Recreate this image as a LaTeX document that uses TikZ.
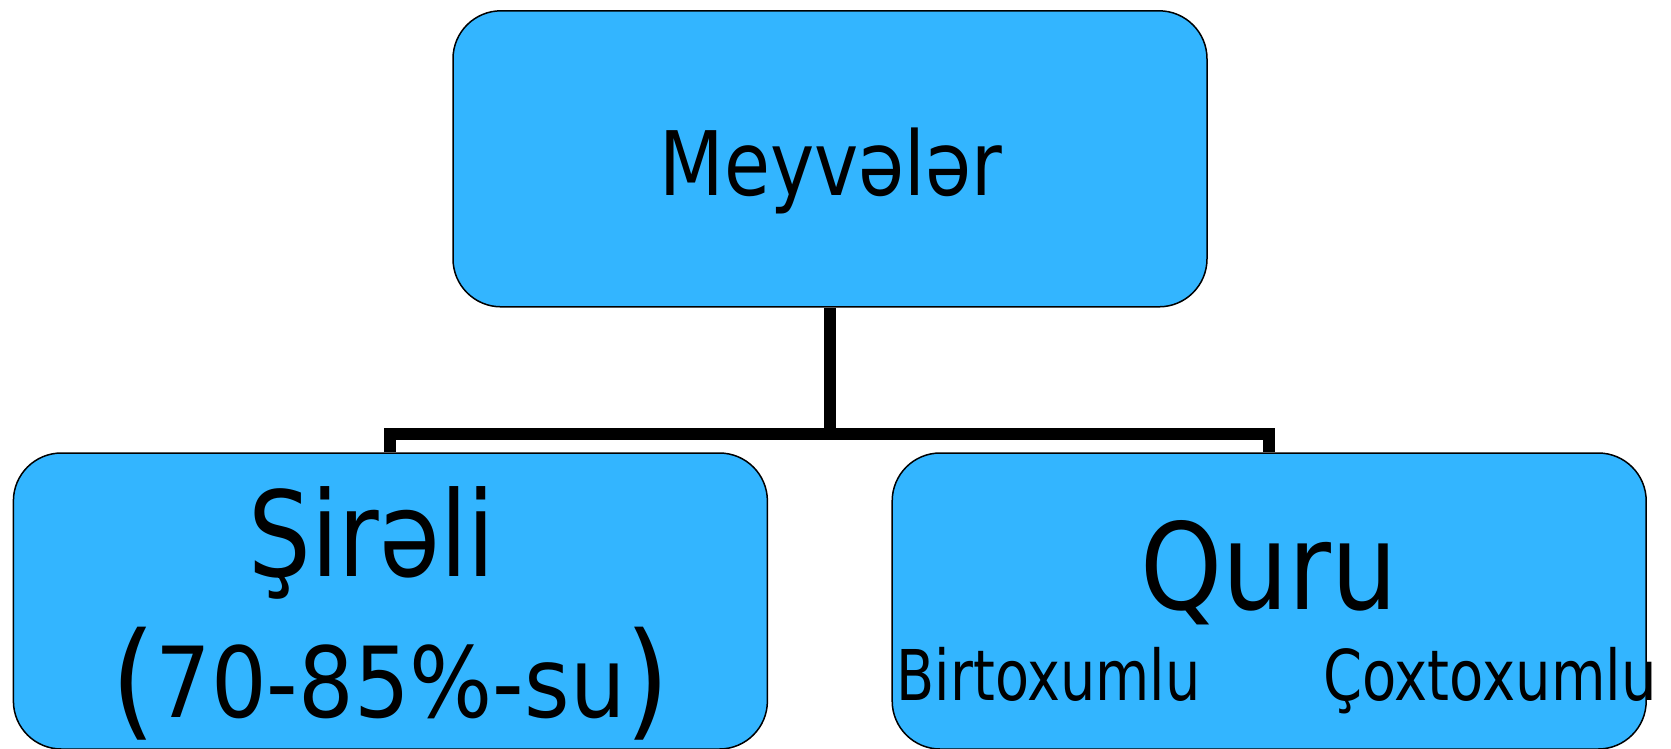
\documentclass[tikz,border=0pt]{standalone}
\usepackage{graphicx}
\usepackage{fontspec}
\setmainfont{DejaVu Sans}
\definecolor{boxblue}{RGB}{51,181,255}
\tikzset{
  box/.style={draw=black, line width=1.5pt, fill=boxblue, rounded corners=48pt,
    minimum width=754pt, minimum height=296pt, inner sep=0pt},
  conn/.style={draw=black, line width=12pt, line join=miter},
  lbl/.style={inner sep=0pt, anchor=base},
}
\newcommand{\lbltext}[3]{\scalebox{#1}[1]{\fontsize{#2}{#2}\selectfont #3}}
\newcommand{\bigparen}[1]{\raisebox{-6pt}{\fontsize{127}{127}\selectfont #1}}
\begin{document}
\begin{tikzpicture}[x=1pt,y=-1pt]
  \useasboundingbox (0,0) rectangle (1671,748);
  \clip (0,0) rectangle (1671,748);

  % boxes
  \node[box] (top)   at (830,158.8) {};
  \node[box] (left)  at (390.4,601) {};
  \node[box] (right) at (1269.2,601) {};

  % tree connectors
  \coordinate (bus) at (830,434);
  \draw[conn] (top.south) -- (bus);
  \draw[conn] (left.north) |- (bus) -| (right.north);

  % labels
  \node[lbl] (tmey)  at (831,195)    {\lbltext{0.84}{89}{Meyvələr}};
  \node[lbl] (tsir)  at (372,576.5)  {\lbltext{0.835}{118.4}{Şirəli}};
  \node[lbl] (tsu)   at (390.5,717)  {\lbltext{0.893}{98}{\bigparen{(}70-85\%-su\bigparen{)}}};
  \node[lbl] (tquru) at (1268.8,609.6) {\lbltext{0.87}{120}{Quru}};
  \node[lbl] (tbir)  at (1048.7,700) {\lbltext{0.795}{70}{Birtoxumlu}};
  \node[lbl] (tcox)  at (1489.9,700) {\lbltext{0.80}{70}{Çoxtoxumlu}};
\end{tikzpicture}
\end{document}
